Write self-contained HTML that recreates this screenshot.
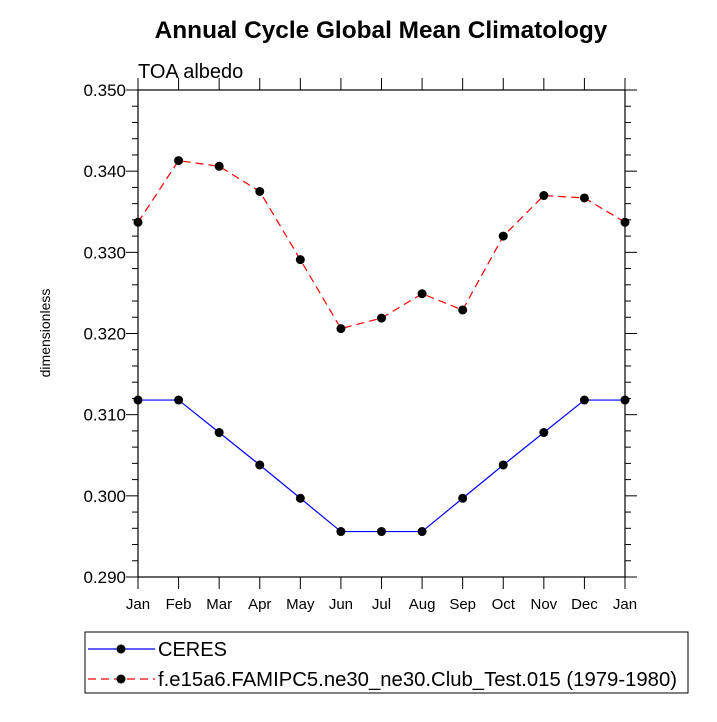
<!DOCTYPE html>
<html><head><meta charset="utf-8"><style>
body{margin:0;background:#fff;}
svg text{font-family:"Liberation Sans",sans-serif;}
</style></head><body>
<svg id="c" width="717" height="717" xmlns="http://www.w3.org/2000/svg">
<text x="381" y="38" text-anchor="middle" font-size="24.4" font-weight="bold">Annual Cycle Global Mean Climatology</text>
<text x="138" y="78" font-size="20">TOA albedo</text>
<text transform="translate(50,333) rotate(-90)" text-anchor="middle" font-size="14">dimensionless</text>
<g id="ax"></g>
<g id="marks"></g>
<g>
<rect x="85" y="632" width="603" height="61" fill="#fff" stroke="#000" stroke-width="1"/>
<g>
<line x1="88" y1="649" x2="155" y2="649" stroke="#0000ff" stroke-width="1.2"/>
<circle cx="121" cy="649" r="4.5"/>
<text x="158" y="656" font-size="20">CERES</text></g>
<g>
<line x1="88" y1="679" x2="155" y2="679" stroke="#ff0000" stroke-width="1.2" stroke-dasharray="8,5"/>
<circle cx="121" cy="679" r="4.5"/>
<text x="158" y="686" font-size="20" textLength="519" lengthAdjust="spacingAndGlyphs">f.e15a6.FAMIPC5.ne30_ne30.Club_Test.015 (1979-1980)</text></g>
</g>
</svg>
<script>
const months=["Jan","Feb","Mar","Apr","May","Jun","Jul","Aug","Sep","Oct","Nov","Dec","Jan"];
const ceres=[0.3118,0.3118,0.3078,0.3038,0.2997,0.2956,0.2956,0.2956,0.2997,0.3038,0.3078,0.3118,0.3118];
const model=[0.3337,0.3413,0.3406,0.3375,0.3291,0.3206,0.3219,0.3249,0.3229,0.3320,0.3370,0.3367,0.3337];
const yTicks=[0.290,0.300,0.310,0.320,0.330,0.340,0.350];
const NS="http://www.w3.org/2000/svg";
const L=138,R=625,T=90,B=577,ymin=0.29,ymax=0.35;
const xs=i=>L+i*(R-L)/12, ys=v=>B-(v-ymin)/(ymax-ymin)*(B-T);
function mk(t,a,p){const e=document.createElementNS(NS,t);for(const k in a)e.setAttribute(k,a[k]);(p||document.getElementById('ax')).appendChild(e);return e;}
const box=mk('rect',{x:L,y:T,width:R-L,height:B-T,fill:'none',stroke:'#000','stroke-width':1.2});


months.forEach((m,i)=>{const x=xs(i);
mk('line',{x1:x,y1:B,x2:x,y2:B+12,stroke:'#000'});
mk('line',{x1:x,y1:T,x2:x,y2:T-12,stroke:'#000'});
const t=mk('text',{x:x,y:B+32,'text-anchor':'middle','font-size':15});t.textContent=m;

});
for(let v=ymin;v<=ymax+1e-9;v+=0.002){const y=ys(v);const maj=Math.abs(Math.round(v*1000)%10)<0.5;const l=maj?12:6;
mk('line',{x1:L-l,y1:y,x2:L,y2:y,stroke:'#000'});mk('line',{x1:R,y1:y,x2:R+l,y2:y,stroke:'#000'});}
yTicks.forEach(v=>{const t=mk('text',{x:L-12,y:ys(v)+6,'text-anchor':'end','font-size':17});t.textContent=v.toFixed(3);

});
const g=document.getElementById('marks');
function series(d,col,dash,name){
const p=mk('polyline',{points:d.map((v,i)=>xs(i)+','+ys(v)).join(' '),fill:'none',stroke:col,'stroke-width':1.2},g);
if(dash)p.setAttribute('stroke-dasharray','8,5');


d.forEach((v,i)=>{const c=mk('circle',{cx:xs(i),cy:ys(v),r:4.5,fill:'#000'},g);

});}
series(ceres,'#0000ff',false,'ceres');
series(model,'#ff0000',true,'model');
</script>
</body></html>
